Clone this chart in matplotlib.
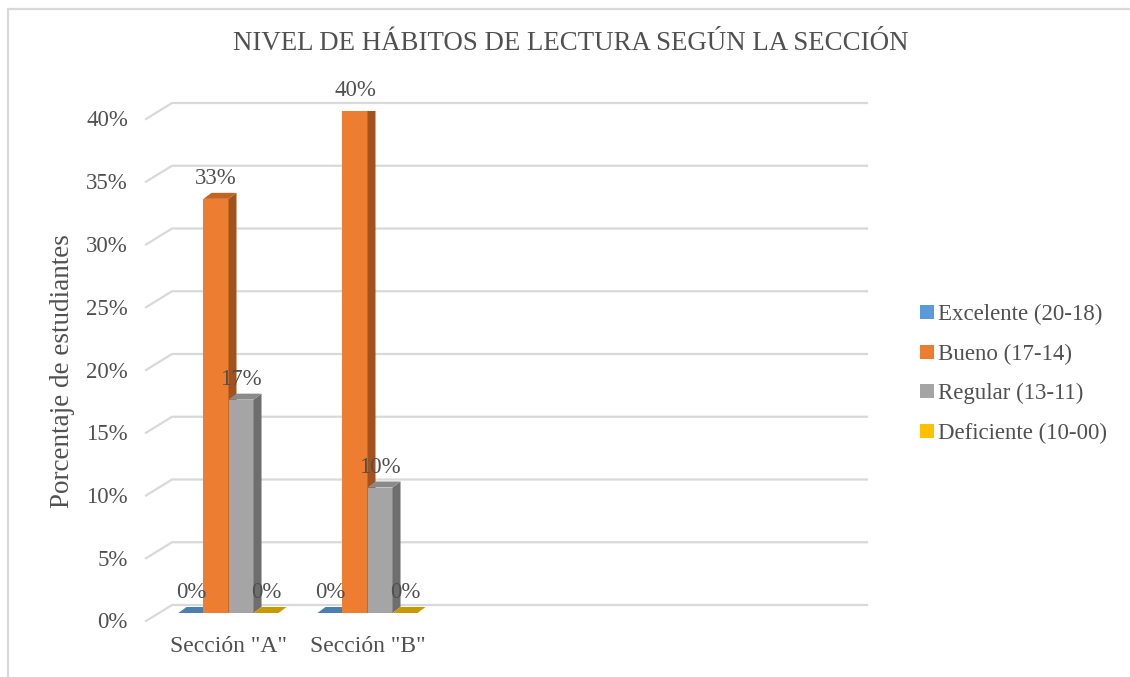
import matplotlib.pyplot as plt
from matplotlib.patches import Polygon, Patch, Rectangle
from matplotlib.lines import Line2D
from matplotlib.transforms import offset_copy

plt.rcParams["font.family"] = ["Liberation Serif", "DejaVu Serif"]

categorias = ['Sección "A"', 'Sección "B"']
series = ["Excelente (20-18)", "Bueno (17-14)", "Regular (13-11)", "Deficiente (10-00)"]
excelente = [0, 0]
bueno = [33, 40]
regular = [17, 10]
deficiente = [0, 0]
valores = [excelente, bueno, regular, deficiente]
etiquetas_y = ["0%", "5%", "10%", "15%", "20%", "25%", "30%", "35%", "40%"]
ticks_y = [0, 5, 10, 15, 20, 25, 30, 35, 40]

colores = ["#5B9BD5", "#ED7D31", "#A5A5A5", "#FFC000"]
lados = ["#3F6E98", "#A2521C", "#6E6E6E", "#B38600"]
techos = ["#4A80B0", "#C4641F", "#8A8A8A", "#C99A00"]
texto = "#505050"
grid = "#D9D9D9"

W, H = 1130, 677
fig = plt.figure(figsize=(W / 100, H / 100), dpi=100)
# plano medio de las barras, en pixeles
x0, x1, yb, yt = 159, 854, 613, 111
ax = fig.add_axes([x0 / W, 1 - yb / H, (x1 - x0) / W, (yb - yt) / H])
n_slots = 5
ax.set_xlim(-0.5, n_slots - 0.5)
ax.set_ylim(0, 40)
ax.axis("off")

# pixel -> datos
px_x = n_slots / (x1 - x0)
px_y = 40 / (yb - yt)
# profundidad de la caja (mitad) y de las barras
hx, hy = 13, 8
bx, by = 8, 6

# lineas de division (pared del fondo + lateral)
for v in ticks_y:
    xs = [-0.5 - hx * px_x, -0.5 + hx * px_x, n_slots - 0.5 + hx * px_x]
    ys = [v - hy * px_y, v + hy * px_y, v + hy * px_y]
    ax.add_line(Line2D(xs, ys, color=grid, lw=1.6, zorder=1, clip_on=False))

fx = offset_copy(ax.get_yaxis_transform(), fig, x=-31, y=-10, units="dots")
for v, lab in zip(ticks_y, etiquetas_y):
    ax.text(0, v, lab, transform=fx, ha="right", va="center", fontsize=16.5, color=texto)

ancho = 0.18
for i, cat in enumerate(categorias):
    for s in range(4):
        h = valores[s][i]
        xl = i + (s - 1.5) * ancho - ancho / 2
        xr = xl + ancho
        z = 3 + s
        if h > 0:
            ax.add_patch(Rectangle((xl, 0), ancho, h, color=colores[s], zorder=z, lw=0))
            ax.add_patch(Polygon([(xr, 0), (xr + bx * px_x, by * px_y),
                                  (xr + bx * px_x, h + by * px_y), (xr, h)],
                                 color=lados[s], zorder=z, lw=0))
        ax.add_patch(Polygon([(xl, h), (xr, h), (xr + bx * px_x, h + by * px_y),
                              (xl + bx * px_x, h + by * px_y)],
                             color=techos[s], zorder=z, lw=0))
        ax.annotate(f"{h}%", (xl + ancho / 2, h), xytext=(0, 20), textcoords="offset pixels",
                    ha="center", va="center", fontsize=16.5, color=texto, zorder=10)
    ax.annotate(cat, (i, 0), xytext=(0, -33), textcoords="offset pixels",
                ha="center", va="center", fontsize=17, color=texto)

fig.text(571 / W, 1 - 44 / H, "NIVEL DE HÁBITOS DE LECTURA SEGÚN LA SECCIÓN",
         ha="center", va="center", fontsize=19.4, color=texto)
fig.text(63 / W, 1 - 371 / H, "Porcentaje de estudiantes", rotation=90,
         ha="center", va="center", fontsize=19.5, color=texto)

handles = [Patch(facecolor=c, edgecolor="none") for c in colores]
fig.legend(handles, series, loc="center left", bbox_to_anchor=(909 / W, 1 - 374 / H),
           frameon=False, fontsize=16.5, labelcolor=texto, handlelength=0.6,
           handleheight=0.55, handletextpad=0.15, labelspacing=0.8, borderpad=0)

# borde del grafico
fig.add_artist(Rectangle((8 / W, -0.1), 1.2, 1 - 9 / H + 0.1, transform=fig.transFigure,
                         fill=False, edgecolor=grid, lw=1.6))

fig.savefig("out.png", dpi=100)
